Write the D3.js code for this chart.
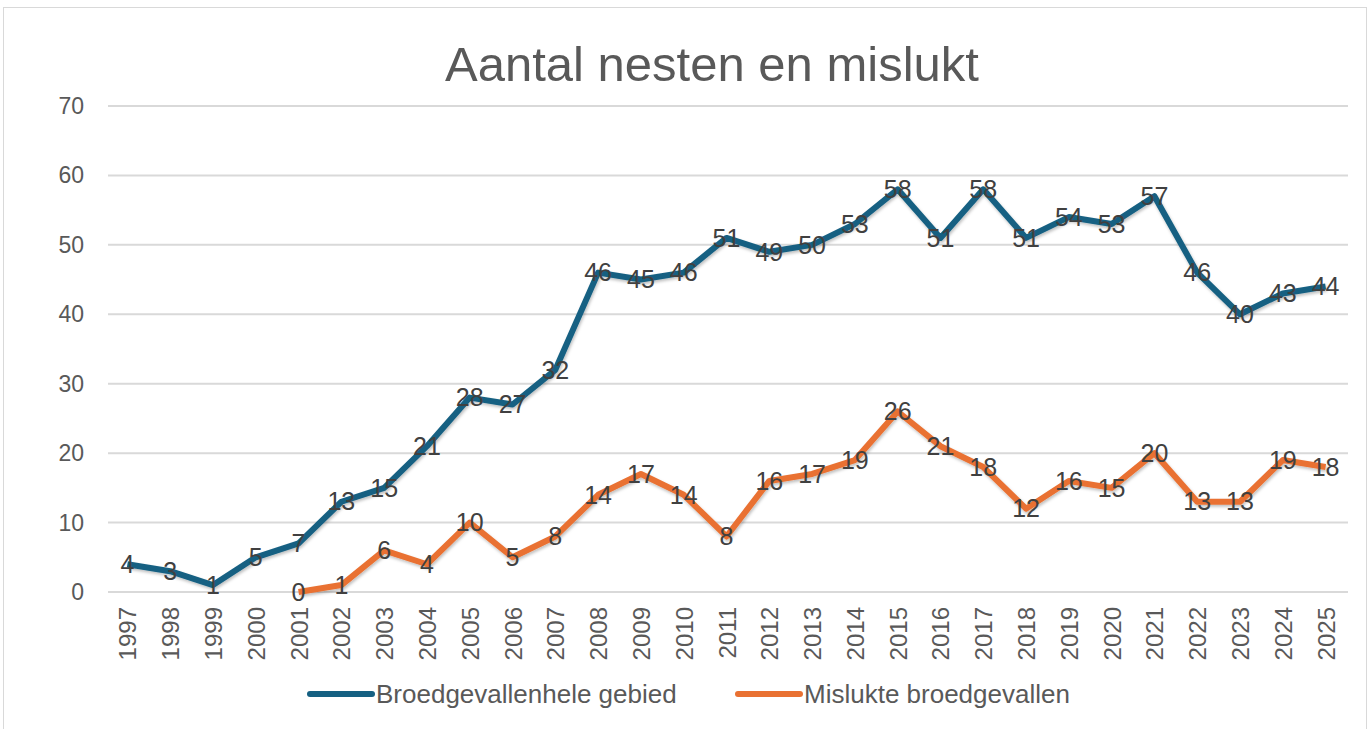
<!DOCTYPE html>
<html>
<head>
<meta charset="utf-8">
<script src="https://cdn.jsdelivr.net/npm/d3@7"></script>
<style>
  body { margin: 0; background: #fff; }
  text { font-family: "Liberation Sans", Arial, sans-serif; }
</style>
</head>
<body>
<div id="graph"></div>
<script>
const years = d3.range(1997, 2026).map(String);
const totaal = [4, 3, 1, 5, 7, 13, 15, 21, 28, 27, 32, 46, 45, 46, 51, 49, 50, 53, 58, 51, 58, 51, 54, 53, 57, 46, 40, 43, 44];
const mislukt = [null, null, null, null, 0, 1, 6, 4, 10, 5, 8, 14, 17, 14, 8, 16, 17, 19, 26, 21, 18, 12, 16, 15, 20, 13, 13, 19, 18];
const yTicks = [0, 10, 20, 30, 40, 50, 60, 70];
const seriesNames = ["Broedgevallenhele gebied", "Mislukte broedgevallen"];
const colors = ["#156082", "#E97132"];

const width = 1371;
const height = 729;
const margin = {top: 106, right: 24, bottom: 137, left: 106};

const svg = d3.select("#graph")
  .append("svg")
  .attr("width", width)
  .attr("height", height);

const defs = svg.append("defs");
const f = defs.append("filter").attr("id", "shadow")
  .attr("x", "-5%").attr("y", "-5%").attr("width", "110%").attr("height", "120%");
f.append("feDropShadow").attr("dx", 1).attr("dy", 2).attr("stdDeviation", 1.5)
  .attr("flood-color", "#000").attr("flood-opacity", 0.25);

// chart border
svg.append("rect")
  .attr("x", 3.5).attr("y", 7.5)
  .attr("width", 1363).attr("height", 730)
  .attr("fill", "none")
  .attr("stroke", "#d9d9d9")
  .attr("stroke-width", 1);

svg.append("text")
  .attr("x", 712).attr("y", 81)
  .attr("text-anchor", "middle")
  .attr("font-size", 49)
  .attr("fill", "#595959")
  .text("Aantal nesten en mislukt");

const x = d3.scalePoint()
  .domain(years)
  .range([margin.left, width - margin.right])
  .padding(0.5);

const y = d3.scaleLinear()
  .domain([0, 70])
  .range([height - margin.bottom, margin.top]);

// gridlines
svg.append("g")
  .selectAll("line")
  .data(yTicks)
  .join("line")
  .attr("x1", 108)
  .attr("x2", 1348)
  .attr("y1", d => y(d))
  .attr("y2", d => y(d))
  .attr("stroke", "#d9d9d9")
  .attr("stroke-width", 2);

// y labels
svg.append("g")
  .selectAll("text")
  .data(yTicks)
  .join("text")
  .attr("x", 84)
  .attr("y", d => y(d))
  .attr("dy", "0.35em")
  .attr("text-anchor", "end")
  .attr("font-size", 23)
  .attr("fill", "#595959")
  .text(d => d);

// x labels
svg.append("g")
  .selectAll("text")
  .data(years)
  .join("text")
  .attr("transform", d => `translate(${x(d) + 9},${y(0) + 15}) rotate(-90)`)
  .attr("text-anchor", "end")
  .attr("font-size", 24)
  .attr("fill", "#595959")
  .text(d => d);

const line = d3.line()
  .defined(d => d.v != null)
  .x(d => x(d.year))
  .y(d => y(d.v));

[totaal, mislukt].forEach((vals, i) => {
  const data = years.map((yr, j) => ({year: yr, v: vals[j]}));
  svg.append("path")
    .datum(data)
    .attr("fill", "none")
    .attr("stroke", colors[i])
    .attr("stroke-width", 6)
    .attr("stroke-linejoin", "round")
    .attr("filter", "url(#shadow)")
    .attr("d", line);
});

[totaal, mislukt].forEach((vals, i) => {
  const data = years.map((yr, j) => ({year: yr, v: vals[j]})).filter(d => d.v != null);
  svg.append("g")
    .selectAll("text")
    .data(data)
    .join("text")
    .attr("x", d => x(d.year))
    .attr("y", d => y(d.v))
    .attr("dy", "0.35em")
    .attr("text-anchor", "middle")
    .attr("font-size", 25)
    .attr("fill", "#404040")
    .text(d => d.v);
});

// legend
const legendX = [310, 738];
const legend = svg.append("g");
seriesNames.forEach((name, i) => {
  legend.append("line")
    .attr("x1", legendX[i]).attr("x2", legendX[i] + 62)
    .attr("y1", 694).attr("y2", 694)
    .attr("stroke", colors[i])
    .attr("stroke-width", 6)
    .attr("stroke-linecap", "round");
  legend.append("text")
    .attr("x", legendX[i] + 66)
    .attr("y", 694)
    .attr("dy", "0.35em")
    .attr("font-size", 26)
    .attr("fill", "#595959")
    .text(name);
});
</script>
</body>
</html>
